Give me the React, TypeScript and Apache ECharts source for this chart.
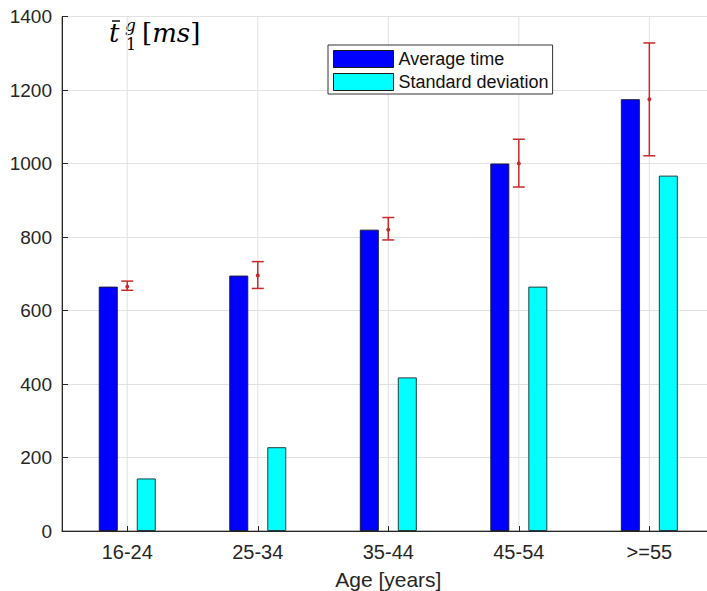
import React, { useEffect, useRef } from "react";
import * as echarts from "echarts";

const categories = ["16-24", "25-34", "35-44", "45-54", ">=55"];
const averageTime = [665, 695, 820, 1000, 1175];
const standardDeviation = [143, 228, 418, 665, 967];
const errLow = [655, 660, 792, 936, 1021];
const errHigh = [680, 733, 853, 1066, 1328];
const yTicks = { min: 0, max: 1400, interval: 200 };

const FONT = "'Liberation Sans', Arial, Helvetica, sans-serif";
const MATH = "'DejaVu Serif', 'Liberation Serif', serif";
const AX = "#262626";

export default function App() {
  const ref = useRef<HTMLDivElement>(null);
  useEffect(() => {
    if (!ref.current) return;
    const chart = echarts.init(ref.current, null, { renderer: "svg" });
    const errData = categories.map((_, i) => [i, errLow[i], errHigh[i], averageTime[i]]);
    chart.setOption({
      animation: false,
      backgroundColor: "#ffffff",
      grid: {
        left: 62,
        right: -7.6,
        top: 16.5,
        bottom: 60,
        containLabel: false,
        outerBoundsMode: "none",
        show: true,
        borderColor: "#6a6a6a",
        borderWidth: 1,
        backgroundColor: "transparent",
      },
      legend: {
        data: ["Average time", "Standard deviation"],
        orient: "vertical",
        left: 328,
        top: 45,
        itemWidth: 60,
        itemHeight: 17,
        itemGap: 5,
        padding: [5, 4, 3, 5],
        backgroundColor: "#ffffff",
        borderColor: "#333333",
        borderWidth: 1,
        borderRadius: 0,
        icon: "rect",
        itemStyle: { borderColor: "#1a1a1a", borderWidth: 1 },
        textStyle: { fontFamily: FONT, fontSize: 18, color: "#111" },
        selectedMode: false,
        z: 10,
      },
      xAxis: {
        type: "category",
        data: categories,
        name: "Age [years]",
        nameLocation: "middle",
        nameGap: 38,
        nameTextStyle: { fontFamily: FONT, fontSize: 21, color: AX },
        axisLine: { lineStyle: { color: AX, width: 1 } },
        axisTick: { show: true, inside: true, length: 5, alignWithLabel: true, lineStyle: { color: AX } },
        axisLabel: { fontFamily: FONT, fontSize: 20, color: AX, margin: 11 },
        splitLine: { show: false },
      },
      yAxis: {
        type: "value",
        min: yTicks.min,
        max: yTicks.max,
        interval: yTicks.interval,
        axisLine: { show: true, lineStyle: { color: AX, width: 1 } },
        axisTick: { show: true, inside: true, length: 6, lineStyle: { color: AX } },
        axisLabel: { fontFamily: FONT, fontSize: 19, color: AX, margin: 10, formatter: (v: number) => String(v) },
        splitLine: { show: true, lineStyle: { color: "#e2e2e2", width: 1 } },
      },
      series: [
        {
          name: "Average time",
          type: "bar",
          data: averageTime,
          barWidth: 19,
          barGap: "0%",
          itemStyle: { color: "#0000ff", borderColor: "#1a1a40", borderWidth: 1 },
        },
        {
          name: "gap",
          type: "bar",
          data: averageTime.map(() => 0),
          barWidth: 19,
          barGap: "0%",
          silent: true,
          itemStyle: { color: "rgba(0,0,0,0)", borderWidth: 0 },
        },
        {
          name: "Standard deviation",
          type: "bar",
          data: standardDeviation,
          barWidth: 19,
          barGap: "0%",
          itemStyle: { color: "#00ffff", borderColor: "#1f3f3f", borderWidth: 1 },
        },
        {
          name: "err",
          type: "custom",
          data: errData,
          encode: { x: 0, y: [1, 2, 3] },
          silent: true,
          z: 3,
          renderItem: (params: any, api: any) => {
            const idx = api.value(0);
            const lo = api.coord([idx, api.value(1)]);
            const hi = api.coord([idx, api.value(2)]);
            const mid = api.coord([idx, api.value(3)]);
            const top = api.coord([idx, yTicks.max]);
            const bot = api.coord([idx, yTicks.min]);
            const c = "#c62a2a";
            const hw = 6;
            return {
              type: "group",
              children: [
                { type: "line", shape: { x1: top[0], y1: top[1], x2: bot[0], y2: bot[1] - 6 }, style: { stroke: "#e2e2e2", lineWidth: 1 } },
                { type: "line", shape: { x1: lo[0], y1: lo[1], x2: hi[0], y2: hi[1] }, style: { stroke: c, lineWidth: 1.5 } },
                { type: "line", shape: { x1: lo[0] - hw, y1: lo[1], x2: lo[0] + hw, y2: lo[1] }, style: { stroke: c, lineWidth: 1.5 } },
                { type: "line", shape: { x1: hi[0] - hw, y1: hi[1], x2: hi[0] + hw, y2: hi[1] }, style: { stroke: c, lineWidth: 1.5 } },
                { type: "circle", shape: { cx: mid[0], cy: mid[1], r: 2 }, style: { fill: c } },
              ],
            };
          },
        },
      ],
      graphic: [
        {
          type: "group",
          z: 100,
          children: [
            { type: "rect", shape: { x: 92, y: 0, width: 126, height: 63 }, style: { fill: "#ffffff" } },
            { type: "text", x: 109, y: 33.4, style: { text: "t", fontFamily: MATH, fontStyle: "italic", fontSize: 26, fill: "#000", verticalAlign: "middle" } },
            { type: "line", shape: { x1: 112, y1: 21, x2: 120, y2: 21 }, style: { stroke: "#000", lineWidth: 1.4 } },
            { type: "text", x: 125, y: 24.5, style: { text: "g", fontFamily: MATH, fontStyle: "italic", fontSize: 17, fill: "#000", verticalAlign: "middle" } },
            { type: "text", x: 126, y: 44, style: { text: "1", fontFamily: MATH, fontSize: 16, fill: "#000", verticalAlign: "middle" } },
            {
              type: "text",
              x: 142,
              y: 33.4,
              style: {
                text: "{u|[}{i|ms}{u|]}",
                verticalAlign: "middle",
                rich: {
                  u: { fontFamily: MATH, fontSize: 26, fill: "#000" },
                  i: { fontFamily: MATH, fontSize: 26, fontStyle: "italic", fill: "#000" },
                },
              },
            },
          ],
        },
      ],
    });
    return () => chart.dispose();
  }, []);
  return <div ref={ref} style={{ width: 707, height: 591, position: "absolute", left: 0, top: 0 }} />;
}
